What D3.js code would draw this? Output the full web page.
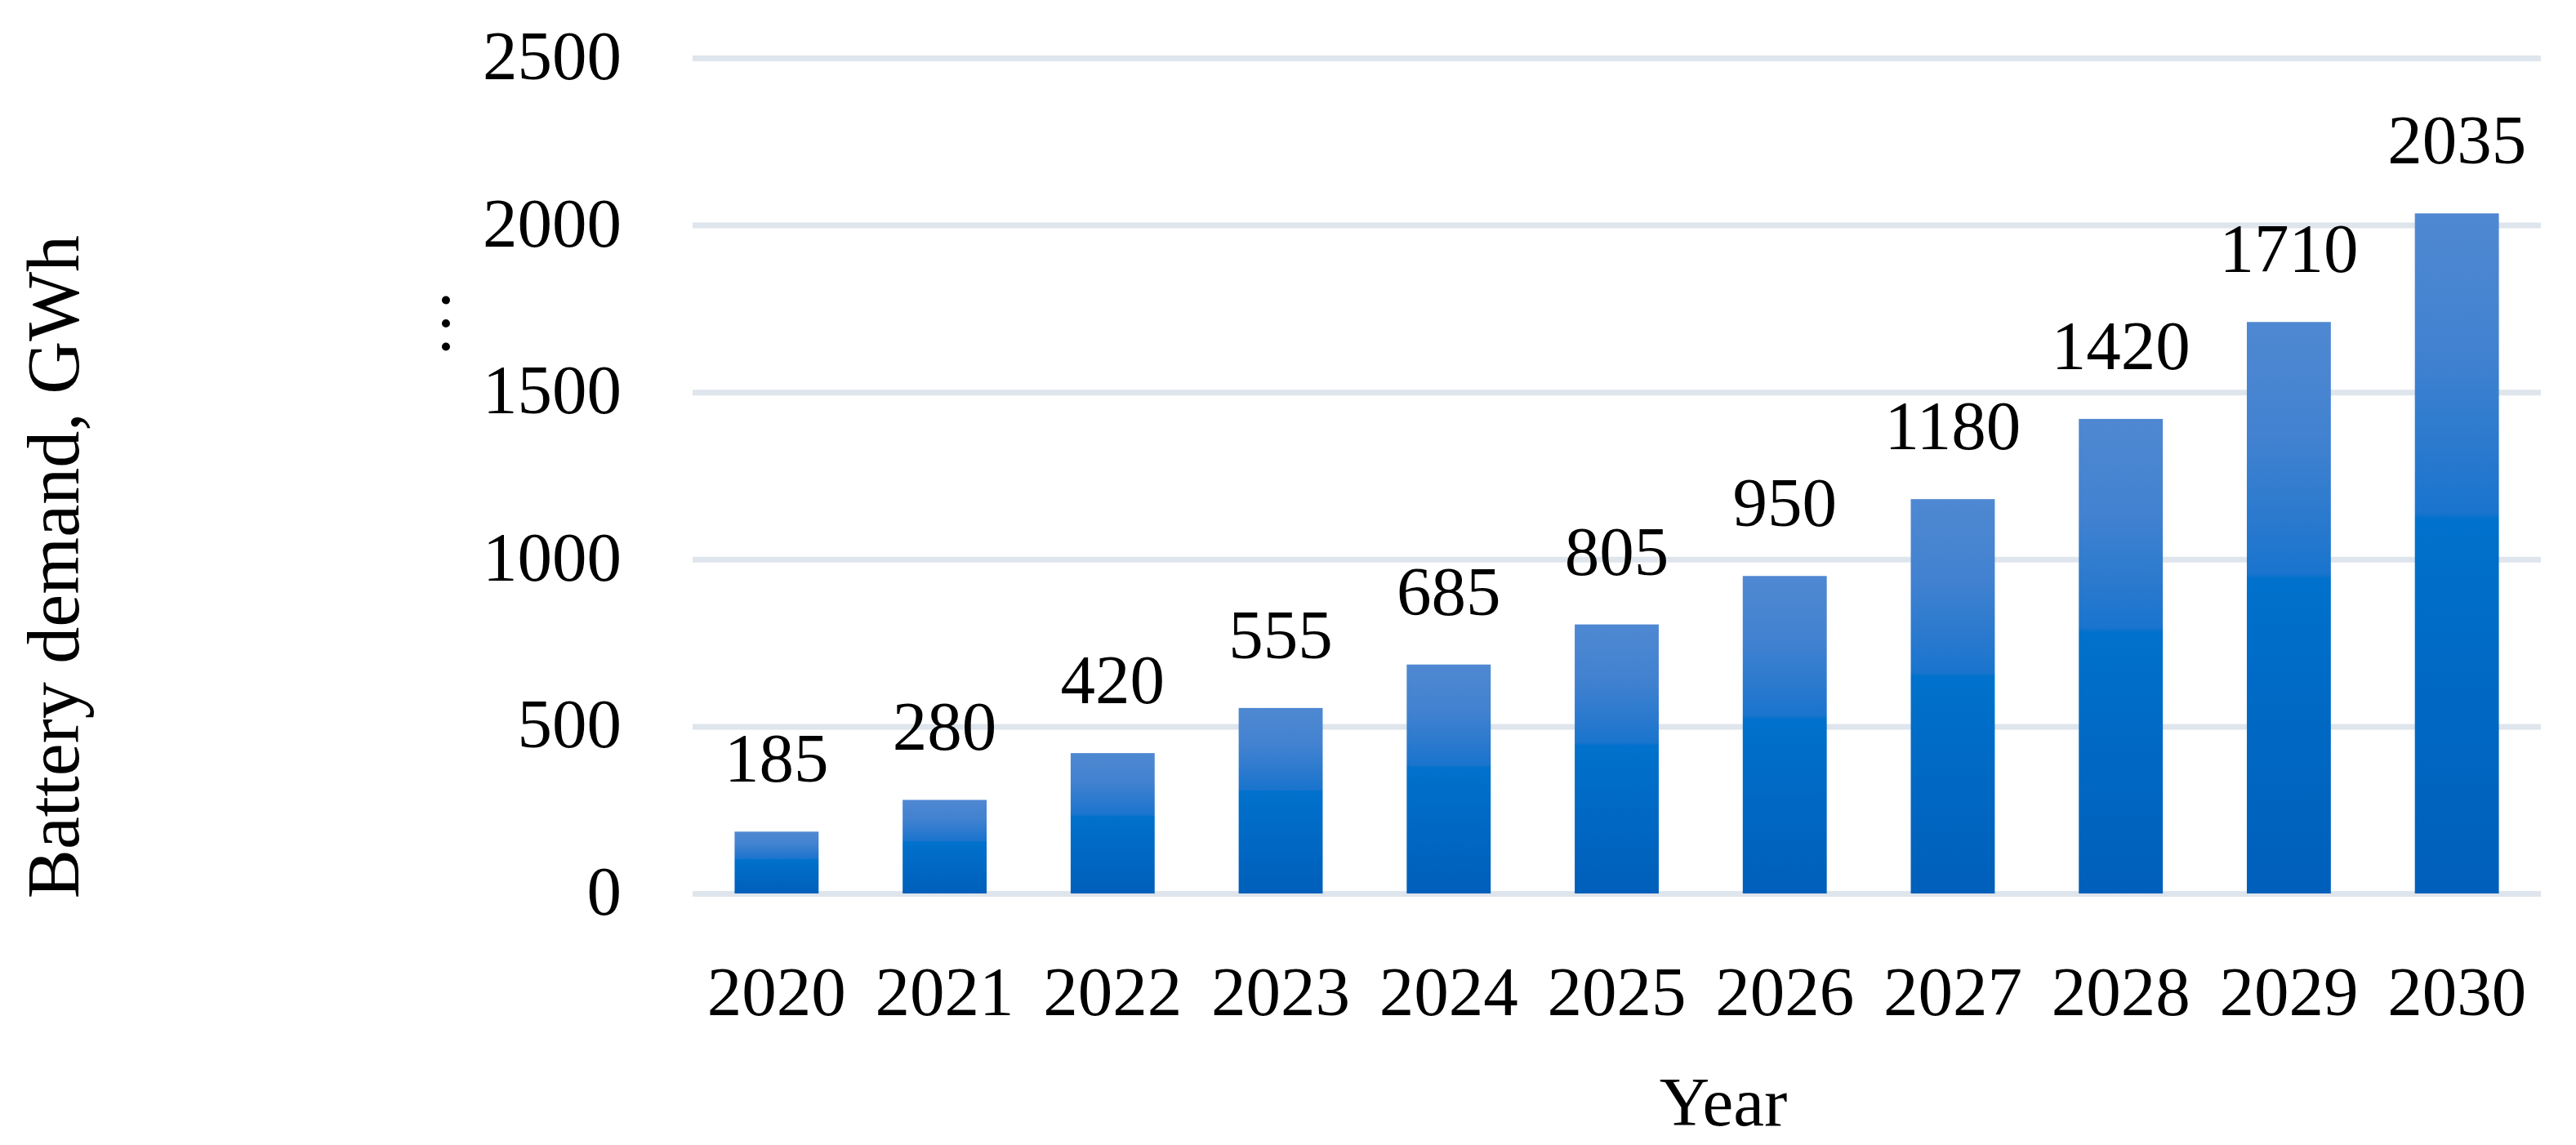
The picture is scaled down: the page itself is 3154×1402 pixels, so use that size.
<!DOCTYPE html>
<html>
<head>
<meta charset="utf-8">
<script src="https://cdn.jsdelivr.net/npm/d3@7"></script>
<style>
  body { margin: 0; background: #fff; }
  text { font-family: "Palatino Linotype", Palatino, "Book Antiqua", "Liberation Serif", serif; fill: #000; }
</style>
</head>
<body>
<svg id="chart" width="3154" height="1402"></svg>
<script>
// data
var years = ["2020","2021","2022","2023","2024","2025","2026","2027","2028","2029","2030"];
var demand = [185, 280, 420, 555, 685, 805, 950, 1180, 1420, 1710, 2035];
var yTicks = [0, 500, 1000, 1500, 2000, 2500];

var svg = d3.select("#chart");
var plotLeft = 848, plotRight = 3111, plotTop = 71, plotBottom = 1094;

var x = d3.scaleBand().domain(years).range([plotLeft, plotRight]).paddingInner(0.5).paddingOuter(0.25);
var y = d3.scaleLinear().domain([0, 2500]).range([plotBottom, plotTop]);

// bar gradient, light at top, darker at the bottom
var grad = svg.append("defs").append("linearGradient")
  .attr("id", "barfill").attr("x1", 0).attr("y1", 0).attr("x2", 0).attr("y2", 1);
grad.append("stop").attr("offset", "0%").attr("stop-color", "#4f88d2");
grad.append("stop").attr("offset", "20%").attr("stop-color", "#4282d0");
grad.append("stop").attr("offset", "44%").attr("stop-color", "#1a74cd");
grad.append("stop").attr("offset", "45%").attr("stop-color", "#0071cc");
grad.append("stop").attr("offset", "100%").attr("stop-color", "#005fba");

// gridlines
var grid = svg.append("g")
  .attr("transform", "translate(" + plotLeft + ",0)")
  .call(d3.axisLeft(y).tickValues(yTicks).tickSize(-(plotRight - plotLeft)).tickFormat(""));
grid.select(".domain").remove();
grid.selectAll("line").attr("stroke", "#dfe5ec").attr("stroke-width", 7);

// y tick labels
var yAxis = svg.append("g")
  .attr("transform", "translate(" + plotLeft + ",0)")
  .call(d3.axisLeft(y).tickValues(yTicks).tickFormat(d3.format("d")).tickSize(0).tickPadding(87));
yAxis.select(".domain").remove();
yAxis.selectAll("text").attr("font-size", 85).attr("dy", "0.3em");

// bars
svg.append("g").selectAll("rect")
  .data(demand)
  .join("rect")
  .attr("x", function(d, i){ return x(years[i]); })
  .attr("y", function(d){ return y(d); })
  .attr("width", x.bandwidth())
  .attr("height", function(d){ return plotBottom - y(d); })
  .attr("fill", "url(#barfill)");

// value labels
svg.append("g").selectAll("text")
  .data(demand)
  .join("text")
  .attr("x", function(d, i){ return x(years[i]) + x.bandwidth() / 2; })
  .attr("y", function(d){ return y(d) - 61; })
  .attr("text-anchor", "middle")
  .attr("font-size", 85)
  .text(function(d){ return d; });

// x tick labels
var xAxis = svg.append("g")
  .attr("transform", "translate(0," + plotBottom + ")")
  .call(d3.axisBottom(x).tickSize(0));
xAxis.select(".domain").remove();
xAxis.selectAll("text").attr("y", 149).attr("dy", 0).attr("font-size", 85);

svg.selectAll(".tick text").attr("fill", "#000").attr("font-family", null);

// axis titles
svg.append("text")
  .attr("transform", "translate(96,694) rotate(-90)")
  .attr("text-anchor", "middle")
  .attr("font-size", 90)
  .text("Battery demand, GWh");

svg.append("text")
  .attr("x", 2110).attr("y", 1378)
  .attr("text-anchor", "middle")
  .attr("font-size", 85)
  .text("Year");

// stray ellipsis next to the axis
svg.append("text")
  .attr("transform", "translate(550,396) rotate(-90)")
  .attr("text-anchor", "middle")
  .attr("font-size", 85)
  .text("…");
</script>
</body>
</html>
